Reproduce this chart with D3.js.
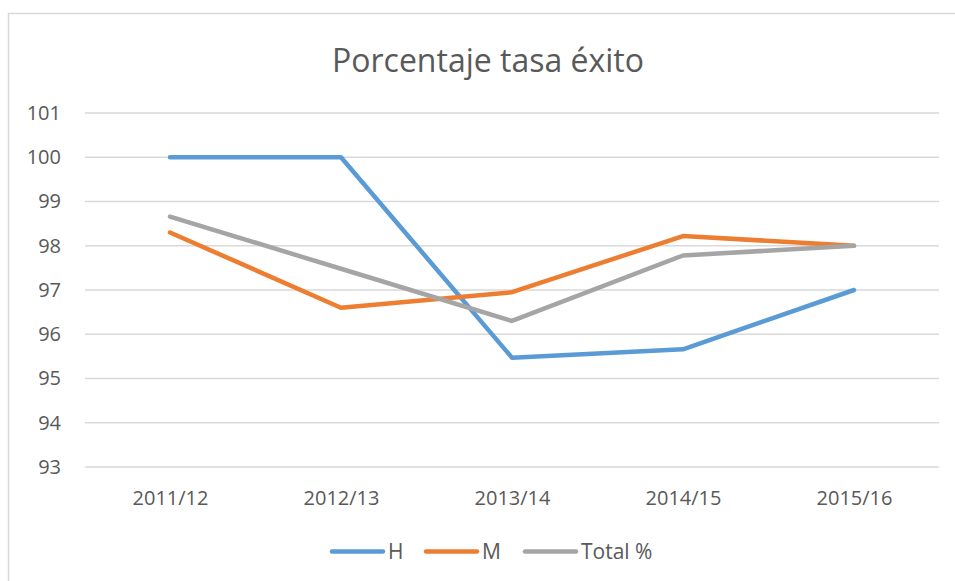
<!DOCTYPE html>
<html><head><meta charset="utf-8">
<script src="https://cdn.jsdelivr.net/npm/d3@7"></script>
<style>body{margin:0;background:#fff;}text{font-family:"Open Sans",sans-serif;fill:#595959;}</style>
</head><body><svg id="c" width="955" height="581"></svg>
<script>
const categories = ["2011/12","2012/13","2013/14","2014/15","2015/16"];
const seriesNames = ["H","M","Total %"];
const hValues = [100, 100, 95.47, 95.66, 97];
const mValues = [98.30, 96.60, 96.95, 98.22, 98];
const totalValues = [98.66, 97.48, 96.30, 97.78, 98];
const yTicks = [93,94,95,96,97,98,99,100,101];
const colors = ["#5b9bd5","#ed7d31","#a5a5a5"];
const seriesValues = [hValues, mValues, totalValues];

const svg = d3.select("#c");
svg.append("rect").attr("x",8.5).attr("y",13.5).attr("width",950).attr("height",580)
  .attr("fill","#fff").attr("stroke","#d9d9d9").attr("stroke-width",1.5);

const x = d3.scalePoint().domain(categories).range([170, 854]);
const y = d3.scaleLinear().domain([93,101]).range([467, 113]);

const grid = svg.append("g");
grid.selectAll("line").data(yTicks).join("line")
  .attr("x1",85).attr("x2",939).attr("y1",d=>y(d)).attr("y2",d=>y(d))
  .attr("stroke","#d9d9d9").attr("stroke-width",1.3);

const yAxis = svg.append("g").attr("transform","translate(61,0)")
  .call(d3.axisLeft(y).tickValues(yTicks).tickSize(0).tickPadding(0));
yAxis.select(".domain").remove();
yAxis.selectAll("text").style("font-size","20px").attr("fill","#595959").attr("text-anchor","end");

const xAxis = svg.append("g").attr("transform","translate(0,467)")
  .call(d3.axisBottom(x).tickSize(0).tickPadding(24));
xAxis.select(".domain").remove();
xAxis.selectAll("text").style("font-size","20px").attr("fill","#595959");

const line = d3.line().x((d,i)=>x(categories[i])).y(d=>y(d));
seriesValues.forEach((vals,k)=>{
  svg.append("path").datum(vals).attr("d",line).attr("fill","none")
    .attr("stroke",colors[k]).attr("stroke-width",4.5)
    .attr("stroke-linecap","round").attr("stroke-linejoin","round");
});

svg.append("text").attr("x",488).attr("y",72).attr("text-anchor","middle")
  .style("font-size","32px").attr("fill","#595959").text("Porcentaje tasa éxito");

const legendX = [332, 426, 525];
const lg = svg.append("g");
seriesNames.forEach((n,k)=>{
  lg.append("line").attr("x1",legendX[k]).attr("x2",legendX[k]+51).attr("y1",551.5).attr("y2",551.5)
    .attr("stroke",colors[k]).attr("stroke-width",4.5).attr("stroke-linecap","round");
  lg.append("text").attr("x",legendX[k]+56).attr("y",559).style("font-size","21px").attr("fill","#595959").text(n);
});
</script></body></html>
